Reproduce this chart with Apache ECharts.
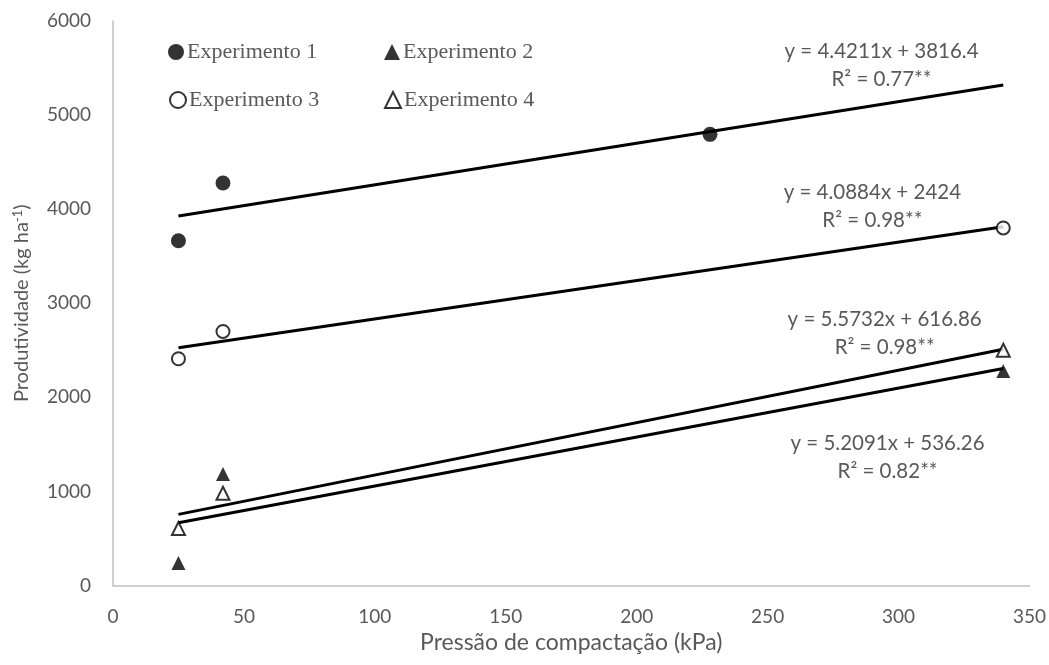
<!DOCTYPE html>
<html>
<head>
<meta charset="utf-8">
<script src="https://cdn.jsdelivr.net/npm/echarts@6/dist/echarts.min.js"></script>
<style>
  html, body { margin: 0; padding: 0; background: #ffffff; }
  #chart { width: 1049px; height: 665px; }
</style>
</head>
<body>
<div id="chart"></div>
<script>
// ---- data ----
const exp1X = [25, 42, 228];
const exp1Y = [3665, 4278, 4795];
const exp2X = [25, 42, 340];
const exp2Y = [240, 1185, 2280];
const exp3X = [25, 42, 340];
const exp3Y = [2410, 2700, 3800];
const exp4X = [25, 42, 340];
const exp4Y = [605, 980, 2500];

// trend line end points (x from 25 to 340)
const trendX = [25, 340];
const trend1Y = [3927, 5320];
const trend2Y = [666, 2307];
const trend3Y = [2526, 3814];
const trend4Y = [756, 2512];

const seriesNames = ['Experimento 1', 'Experimento 2', 'Experimento 3', 'Experimento 4'];
const equations = [
  'y = 4.4211x + 3816.4',
  'y = 5.2091x + 536.26',
  'y = 4.0884x + 2424',
  'y = 5.5732x + 616.86'
];
const r2Texts = ['R² = 0.77**', 'R² = 0.82**', 'R² = 0.98**', 'R² = 0.98**'];
// anchor (data coords) for each equation block center
const eqAnchorX = [293.5, 295.8, 290, 294.7];
const eqAnchorY = [5523, 1360, 4029, 2684];

const xTicks = { min: 0, max: 350, interval: 50 };
const yTicks = { min: 0, max: 6000, interval: 1000 };

const zip = (xs, ys) => xs.map((x, i) => [x, ys[i]]);

const textColor = '#595959';
const sansFont = 'Lato, "Open Sans", sans-serif';
const serifFont = '"Liberation Serif", "DejaVu Serif", serif';

const chart = echarts.init(document.getElementById('chart'), null, { renderer: 'canvas' });

const trendSeries = [trend1Y, trend2Y, trend3Y, trend4Y].map((ys, i) => ({
  name: 'trend' + (i + 1),
  type: 'line',
  data: zip(trendX, ys),
  symbol: 'none',
  silent: true,
  z: 2,
  lineStyle: { color: '#000000', width: 3 }
}));

const markerStyles = [
  { symbol: 'circle', symbolSize: 15, itemStyle: { color: '#000000' } },
  { symbol: 'triangle', symbolSize: 14, itemStyle: { color: '#000000' } },
  { symbol: 'circle', symbolSize: 13, itemStyle: { color: '#ffffff', borderColor: '#000000', borderWidth: 2 } },
  { symbol: 'triangle', symbolSize: 13, itemStyle: { color: '#ffffff', borderColor: '#000000', borderWidth: 2 } }
];
const scatterData = [zip(exp1X, exp1Y), zip(exp2X, exp2Y), zip(exp3X, exp3Y), zip(exp4X, exp4Y)];
const scatterSeries = scatterData.map((d, i) => Object.assign({
  name: seriesNames[i],
  type: 'scatter',
  data: d,
  z: 5
}, markerStyles[i]));

const legendPos = [
  { left: 168, top: 41 },
  { left: 384, top: 41 },
  { left: 169, top: 89 },
  { left: 384, top: 89 }
];
const legends = seriesNames.map((n, i) => ({
  data: [n],
  left: legendPos[i].left,
  top: legendPos[i].top,
  padding: 0,
  itemWidth: 16,
  itemHeight: 16,
  itemGap: 0,
  selectedMode: false,
  textStyle: { color: textColor, fontFamily: serifFont, fontSize: 22, padding: [0, 0, 0, -2] }
}));

chart.setOption({
  animation: false,
  backgroundColor: '#ffffff',
  grid: { left: 113, right: 19, top: 21, bottom: 79.5, containLabel: false },
  legend: legends,
  xAxis: {
    type: 'value',
    min: xTicks.min, max: xTicks.max, interval: xTicks.interval,
    name: 'Pressão de compactação (kPa)',
    nameLocation: 'middle',
    nameGap: 44,
    nameTextStyle: { color: textColor, fontFamily: sansFont, fontSize: 23 },
    axisLine: { show: true, lineStyle: { color: '#bfbfbf', width: 1.5 } },
    axisTick: { show: false },
    splitLine: { show: false },
    axisLabel: { color: textColor, fontFamily: sansFont, fontSize: 19, margin: 22 }
  },
  yAxis: {
    type: 'value',
    min: yTicks.min, max: yTicks.max, interval: yTicks.interval,
    name: 'Produtividade (kg ha{sup|-1})',
    nameLocation: 'middle',
    nameGap: 81,
    nameTextStyle: {
      color: textColor, fontFamily: sansFont, fontSize: 20,
      rich: { sup: { fontSize: 13, verticalAlign: 'top', color: textColor, fontFamily: sansFont, padding: [0, 0, 8, 0] } }
    },
    axisLine: { show: true, lineStyle: { color: '#bfbfbf', width: 1.5 } },
    axisTick: { show: false },
    splitLine: { show: false },
    axisLabel: {
      color: textColor, fontFamily: sansFont, fontSize: 19, margin: 22,
      formatter: (v) => String(v)
    }
  },
  series: trendSeries.concat(scatterSeries)
});

function placeEquations() {
  const elements = equations.map((eq, i) => {
    const p = chart.convertToPixel({ gridIndex: 0 }, [eqAnchorX[i], eqAnchorY[i]]);
    return {
      type: 'text',
      x: p[0],
      y: p[1],
      z: 10,
      style: {
        text: eq + '\n' + r2Texts[i],
        align: 'center',
        verticalAlign: 'middle',
        fill: textColor,
        font: '20.5px ' + sansFont,
        lineHeight: 28
      }
    };
  });
  chart.setOption({ graphic: elements });
}
placeEquations();
</script>
</body>
</html>
